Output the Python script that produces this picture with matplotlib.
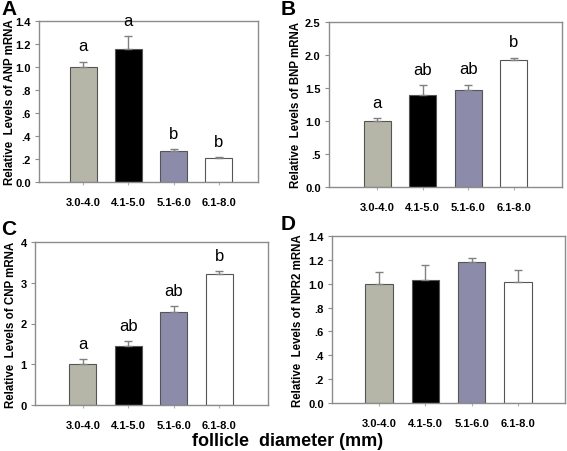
import matplotlib
matplotlib.use("Agg")
import matplotlib.pyplot as plt
from matplotlib.ticker import FixedLocator

plt.rcParams['font.family'] = ['Liberation Sans', 'DejaVu Sans']

categories = ["3.0-4.0", "4.1-5.0", "5.1-6.0", "6.1-8.0"]
bar_colors = ["#b6b6a8", "#000000", "#8c8caa", "#ffffff"]

anp_vals = [1.00, 1.155, 0.27, 0.21]
anp_err = [0.045, 0.115, 0.018, 0.004]
anp_letters = ["a", "a", "b", "b"]

bnp_vals = [1.00, 1.40, 1.47, 1.93]
bnp_err = [0.04, 0.14, 0.08, 0.03]
bnp_letters = ["a", "ab", "ab", "b"]

cnp_vals = [1.00, 1.46, 2.29, 3.22]
cnp_err = [0.13, 0.10, 0.13, 0.07]
cnp_letters = ["a", "ab", "ab", "b"]

npr2_vals = [1.00, 1.035, 1.185, 1.012]
npr2_err = [0.095, 0.12, 0.028, 0.10]
npr2_letters = ["", "", "", ""]

anp_ticks = [0.0, 0.2, 0.4, 0.6, 0.8, 1.0, 1.2, 1.4]
anp_ticklabels = ["0.0", ".2", ".4", ".6", ".8", "1.0", "1.2", "1.4"]
bnp_ticks = [0.0, 0.5, 1.0, 1.5, 2.0, 2.5]
bnp_ticklabels = ["0.0", ".5", "1.0", "1.5", "2.0", "2.5"]
cnp_ticks = [0, 1, 2, 3, 4]
cnp_ticklabels = ["0", "1", "2", "3", "4"]
npr2_ticks = anp_ticks
npr2_ticklabels = anp_ticklabels

W, H = 567, 452
fig = plt.figure(figsize=(W / 100, H / 100), dpi=100)

def rect(l, r, t, b):
    return [l / W, 1 - b / H, (r - l) / W, (b - t) / H]

panels = [
    ("A", rect(39, 258, 22, 183), (-0.98, 3.87), anp_vals, anp_err, anp_letters,
     anp_ticks, anp_ticklabels, "Relative  Levels of ANP mRNA", (1, 15), -0.132),
    ("B", rect(329, 562, 23, 188), (-1.06, 4.06), bnp_vals, bnp_err, bnp_letters,
     bnp_ticks, bnp_ticklabels, "Relative  Levels of BNP mRNA", (281, 15), -0.142),
    ("C", rect(35, 268, 243, 406), (-1.05, 4.07), cnp_vals, cnp_err, cnp_letters,
     cnp_ticks, cnp_ticklabels, "Relative  Levels of CNP mRNA", (1, 235), -0.103),
    ("D", rect(332, 565, 237, 404), (-1.02, 4.02), npr2_vals, npr2_err, npr2_letters,
     npr2_ticks, npr2_ticklabels, "Relative  Levels of NPR2 mRNA", (281, 230), -0.146),
]

x = list(range(len(categories)))
for label, pos, xlim, vals, errs, letters, ticks, ticklabels, ylabel, lpos, lx in panels:
    ax = fig.add_axes(pos)
    ax.bar(x, vals, width=0.6, color=bar_colors, edgecolor="#555555", linewidth=0.8, zorder=2)
    ax.errorbar(x, vals, yerr=[[0] * len(vals), errs], fmt="none", ecolor="#808080",
                elinewidth=1.0, capsize=3, capthick=1.0, zorder=3)
    for xi, v, e, t in zip(x, vals, errs, letters):
        if t:
            ax.annotate(t, (xi, v + e), xytext=(0, 6), textcoords="offset points",
                        ha="center", va="bottom", fontsize=12)
    ax.set_xlim(*xlim)
    ax.set_ylim(ticks[0], ticks[-1])
    ax.yaxis.set_major_locator(FixedLocator(ticks))
    ax.set_yticklabels(ticklabels, fontweight="bold", fontsize=8)
    ax.set_xticks(x)
    ax.set_xticklabels(categories, fontweight="bold", fontsize=8)
    for s in ax.spines.values():
        s.set_color("#8c8c8c")
        s.set_linewidth(1.0)
    ax.tick_params(axis="y", length=3, width=0.8, color="#8c8c8c", pad=3)
    ax.tick_params(axis="x", length=2, width=0.8, color="#b0b0b0", pad=9)
    ax.set_ylabel(ylabel, fontweight="bold", fontsize=8.3)
    ax.yaxis.label.set_va("center")
    ax.yaxis.set_label_coords(lx, 0.5)
    fig.text(lpos[0] / W, 1 - lpos[1] / H, label, fontsize=15, fontweight="bold",
             ha="left", va="baseline")

fig.text(288 / W, 1 - 442 / H, "follicle  diameter (mm)", fontsize=13, fontweight="bold",
         ha="center", va="center")

fig.savefig("out.png", dpi=100)
